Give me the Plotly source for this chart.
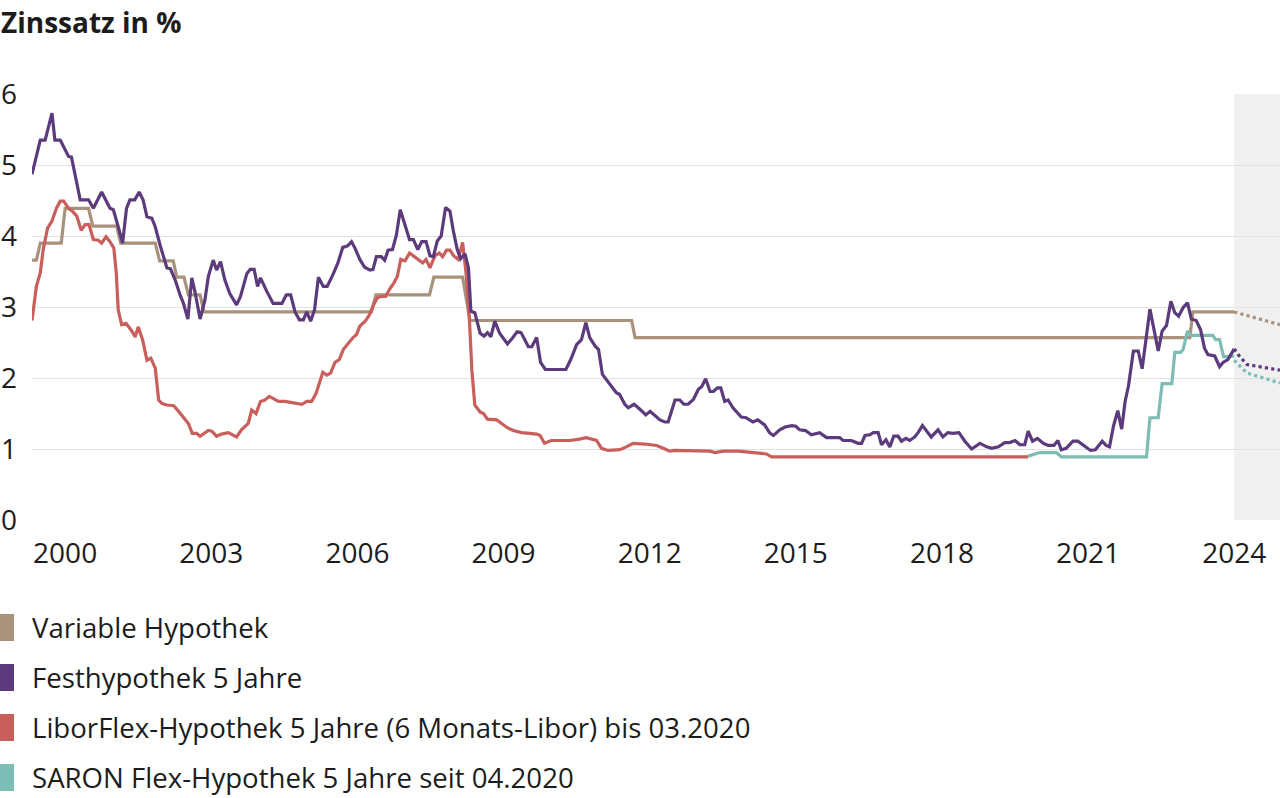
import plotly.graph_objects as go

# ---------------- data (decimal years, % values) ----------------
fest_x = [1999.32,1999.49,1999.59,1999.73,1999.79,1999.90,2000.07,2000.13,2000.31,2000.48,2000.58,2000.75,2000.92,2000.99,
          2001.09,2001.18,2001.26,2001.33,2001.43,2001.52,2001.60,2001.68,2001.78,2001.85,2001.95,2002.09,2002.16,2002.26,
          2002.36,2002.43,2002.52,2002.60,2002.67,2002.77,2002.87,2002.94,2003.04,2003.11,2003.19,2003.28,2003.38,2003.52,
          2003.60,2003.73,2003.80,2003.88,2003.95,2004.01,2004.14,2004.27,2004.45,2004.54,2004.63,2004.72,2004.81,2004.89,
          2004.96,2005.04,2005.12,2005.20,2005.30,2005.38,2005.50,2005.60,2005.70,2005.80,2005.88,2005.95,2006.05,2006.15,
          2006.26,2006.32,2006.39,2006.49,2006.56,2006.63,2006.72,2006.80,2006.88,2006.96,2007.07,2007.15,2007.24,2007.32,
          2007.41,2007.49,2007.56,2007.64,2007.72,2007.81,2007.90,2007.97,2008.05,2008.12,2008.21,2008.28,2008.33,2008.41,
          2008.52,2008.60,2008.67,2008.74,2008.82,2008.92,2009.08,2009.18,2009.28,2009.36,2009.51,2009.58,2009.68,2009.76,
          2009.86,2010.28,2010.38,2010.50,2010.60,2010.69,2010.77,2010.88,2010.95,2011.03,2011.11,2011.22,2011.32,2011.38,
          2011.49,2011.56,2011.68,2011.80,2011.92,2012.01,2012.12,2012.21,2012.31,2012.38,2012.52,2012.62,2012.70,2012.79,
          2012.90,2013.00,2013.07,2013.15,2013.24,2013.31,2013.39,2013.46,2013.54,2013.61,2013.71,2013.88,2013.98,2014.12,
          2014.22,2014.36,2014.46,2014.54,2014.67,2014.78,2014.92,2015.00,2015.08,2015.20,2015.32,2015.49,2015.63,2015.90,
          2015.97,2016.14,2016.28,2016.35,2016.42,2016.52,2016.59,2016.69,2016.76,2016.85,2016.93,2017.01,2017.10,2017.17,
          2017.26,2017.34,2017.44,2017.51,2017.60,2017.70,2017.78,2017.92,2018.02,2018.12,2018.22,2018.35,2018.47,2018.61,
          2018.78,2018.92,2019.02,2019.16,2019.29,2019.39,2019.50,2019.60,2019.70,2019.77,2019.86,2019.96,2020.08,2020.18,
          2020.30,2020.38,2020.45,2020.55,2020.69,2020.79,2020.92,2021.05,2021.15,2021.29,2021.37,2021.44,2021.52,2021.61,
          2021.69,2021.76,2021.83,2021.93,2022.03,2022.11,2022.27,2022.36,2022.44,2022.52,2022.61,2022.70,2022.78,2022.86,
          2022.95,2023.04,2023.12,2023.22,2023.31,2023.39,2023.46,2023.60,2023.70,2023.77,2023.87,2024.00]
fest_y = [4.87,5.35,5.35,5.73,5.35,5.35,5.12,5.11,4.51,4.51,4.39,4.62,4.39,4.37,
          4.13,3.90,4.39,4.51,4.51,4.62,4.51,4.27,4.25,4.13,3.87,3.55,3.54,3.38,
          3.17,3.05,2.83,3.41,3.20,2.83,3.10,3.43,3.66,3.52,3.64,3.38,3.19,3.03,
          3.15,3.47,3.53,3.53,3.29,3.41,3.22,3.05,3.05,3.17,3.17,2.93,2.82,2.82,
          2.93,2.80,2.96,3.42,3.29,3.29,3.46,3.62,3.84,3.86,3.92,3.83,3.67,3.56,
          3.52,3.53,3.71,3.71,3.66,3.80,3.81,4.01,4.37,4.19,3.95,3.95,3.81,3.92,
          3.92,3.72,3.71,3.93,4.00,4.40,4.35,4.07,3.81,3.68,3.75,3.55,2.94,2.92,
          2.63,2.59,2.64,2.58,2.80,2.63,2.48,2.56,2.65,2.64,2.44,2.44,2.57,2.22,
          2.12,2.12,2.26,2.47,2.54,2.78,2.57,2.45,2.40,2.05,1.98,1.88,1.79,1.77,
          1.63,1.58,1.63,1.56,1.48,1.53,1.46,1.41,1.38,1.38,1.69,1.69,1.63,1.63,
          1.70,1.84,1.88,1.99,1.81,1.81,1.86,1.86,1.67,1.69,1.58,1.45,1.44,1.38,
          1.41,1.34,1.23,1.19,1.27,1.31,1.33,1.32,1.27,1.26,1.20,1.23,1.16,1.16,
          1.12,1.12,1.08,1.08,1.19,1.20,1.23,1.23,1.06,1.13,1.03,1.18,1.18,1.11,
          1.15,1.12,1.17,1.23,1.33,1.23,1.17,1.27,1.17,1.23,1.22,1.23,1.11,1.00,
          1.08,1.03,1.01,1.03,1.09,1.09,1.12,1.06,1.06,1.25,1.11,1.15,1.08,1.05,
          1.05,1.12,0.99,1.01,1.11,1.11,1.05,0.98,0.99,1.11,1.05,1.03,1.32,1.54,
          1.28,1.67,1.89,2.38,2.38,2.13,2.97,2.66,2.38,2.66,2.74,3.08,2.92,2.87,
          2.99,3.06,2.83,2.81,2.68,2.42,2.33,2.31,2.16,2.22,2.26,2.41]
fest_fc_x = [2024.00, 2024.08, 2024.26, 2024.94]
fest_fc_y = [2.41, 2.33, 2.19, 2.11]

var_x = [1999.32,1999.41,1999.49,1999.92,2000.00,2000.48,2000.57,2001.06,2001.14,2001.85,2001.94,2002.22,2002.29,
         2002.44,2002.53,2002.77,2002.85,2006.29,2006.38,2007.48,2007.57,2008.16,2008.31,2011.63,2011.70,2023.09,
         2023.15,2024.00]
var_y = [3.66,3.66,3.90,3.90,4.39,4.39,4.14,4.14,3.90,3.90,3.65,3.65,3.42,
         3.42,3.17,3.17,2.93,2.93,3.17,3.17,3.42,3.42,2.81,2.81,2.57,2.57,
         2.93,2.93]
var_fc_x = [2024.00, 2024.94]
var_fc_y = [2.93, 2.75]

libor_x = [1999.32,1999.41,1999.49,1999.55,1999.64,1999.73,1999.82,1999.90,1999.97,2000.07,2000.15,2000.24,2000.33,
           2000.41,2000.49,2000.58,2000.68,2000.75,2000.84,2000.92,2001.00,2001.05,2001.09,2001.16,2001.25,2001.35,
           2001.44,2001.50,2001.59,2001.68,2001.76,2001.85,2001.92,2001.99,2002.09,2002.23,2002.33,2002.46,2002.53,
           2002.61,2002.70,2002.77,2002.94,2003.01,2003.11,2003.21,2003.35,2003.52,2003.62,2003.76,2003.83,2003.92,
           2004.01,2004.10,2004.19,2004.38,2004.51,2004.69,2004.86,2004.96,2005.06,2005.15,2005.22,2005.29,2005.37,
           2005.45,2005.54,2005.63,2005.71,2005.81,2005.91,2005.98,2006.05,2006.16,2006.24,2006.33,2006.41,2006.50,
           2006.58,2006.66,2006.75,2006.82,2006.89,2006.98,2007.07,2007.15,2007.25,2007.34,2007.41,2007.49,2007.59,
           2007.68,2007.75,2007.83,2007.90,2007.98,2008.07,2008.16,2008.23,2008.30,2008.35,2008.41,2008.52,2008.59,
           2008.67,2008.86,2008.96,2009.08,2009.20,2009.37,2009.54,2009.68,2009.75,2009.84,2009.98,2010.36,2010.56,
           2010.70,2010.91,2011.01,2011.15,2011.39,2011.52,2011.66,2011.90,2012.14,2012.28,2012.41,2012.51,2012.75,
           2013.24,2013.34,2013.51,2013.82,2014.06,2014.16,2014.40,2014.50,2019.77]
libor_y = [2.81,3.29,3.48,3.81,4.11,4.21,4.39,4.49,4.49,4.39,4.35,4.28,4.08,
           4.16,4.16,3.95,3.94,3.90,3.99,3.92,3.83,3.48,2.96,2.75,2.77,2.68,
           2.58,2.72,2.54,2.25,2.28,2.14,1.69,1.64,1.62,1.61,1.53,1.43,1.36,
           1.22,1.22,1.18,1.26,1.25,1.18,1.21,1.23,1.17,1.27,1.36,1.55,1.50,
           1.67,1.69,1.74,1.67,1.67,1.65,1.63,1.67,1.67,1.78,1.95,2.08,2.04,
           2.07,2.22,2.26,2.40,2.49,2.57,2.61,2.73,2.80,2.88,3.03,3.13,3.15,
           3.15,3.25,3.34,3.43,3.67,3.65,3.76,3.72,3.67,3.62,3.67,3.55,3.72,
           3.76,3.71,3.80,3.80,3.72,3.67,3.91,3.48,2.82,2.11,1.62,1.52,1.50,
           1.42,1.41,1.36,1.30,1.26,1.23,1.22,1.21,1.19,1.08,1.12,1.12,1.14,
           1.16,1.12,1.01,0.98,0.99,1.03,1.08,1.07,1.05,1.01,0.97,0.98,0.98,
           0.97,0.95,0.97,0.97,0.95,0.94,0.93,0.89,0.89]

saron_x = [2019.77,2020.01,2020.35,2020.45,2022.20,2022.27,2022.44,2022.52,2022.72,2022.78,2022.90,2022.95,2023.04,
           2023.12,2023.56,2023.62,2023.70,2023.78,2023.89,2024.00]
saron_y = [0.90,0.95,0.95,0.89,0.89,1.44,1.44,1.92,1.92,2.36,2.36,2.40,2.66,
           2.60,2.60,2.54,2.54,2.30,2.30,2.31]
saron_fc_x = [2024.00, 2024.26, 2024.94]
saron_fc_y = [2.25, 2.07, 1.93]

x_ticks = [2000, 2003, 2006, 2009, 2012, 2015, 2018, 2021, 2024]
x_ticktext = [str(t) for t in x_ticks]
y_ticks = [0, 1, 2, 3, 4, 5, 6]
forecast_start = 2024.0
x_range = [1999.32, 2024.94]

legend_labels = ["Variable Hypothek", "Festhypothek 5 Jahre",
                 "LiborFlex-Hypothek 5 Jahre (6 Monats-Libor) bis 03.2020",
                 "SARON Flex-Hypothek 5 Jahre seit 04.2020"]
title_text = "Zinssatz in %"

# ---------------- style ----------------
C_VAR = "#a8927c"
C_FEST = "#5c3b7c"
C_LIB = "#c95f5b"
C_SAR = "#7dbdb5"
colors = [C_VAR, C_FEST, C_LIB, C_SAR]
FONT = "Open Sans"
TXT = "#1c1c1c"
LW = 3.2

W, H = 1280, 798
ML, MR, MT, MB = 32, 0, 94, 278
PW, PH = W - ML - MR, H - MT - MB

def px_x(px):
    return (px - ML) / PW

def px_y(py):
    return (H - MB - py) / PH

fig = go.Figure()

def add_line(x, y, color, dash="solid"):
    fig.add_trace(go.Scatter(x=x, y=y, mode="lines", showlegend=False, hoverinfo="skip",
                             line=dict(color=color, width=LW, dash=dash)))

add_line(var_x, var_y, C_VAR)
add_line(var_fc_x, var_fc_y, C_VAR, "dot")
add_line(libor_x, libor_y, C_LIB)
add_line(saron_x, saron_y, C_SAR)
add_line(saron_fc_x, saron_fc_y, C_SAR, "dot")
add_line(fest_x, fest_y, C_FEST)
add_line(fest_fc_x, fest_fc_y, C_FEST, "dot")

# forecast shading
fig.add_shape(type="rect", xref="x", yref="paper", x0=forecast_start, x1=x_range[1], y0=0, y1=1,
              fillcolor="#f0f0f0", line=dict(width=0), layer="below")

# title
fig.add_annotation(text="<b>" + title_text + "</b>", xref="paper", yref="paper",
                   x=px_x(-1), y=px_y(22), xanchor="left", yanchor="middle", showarrow=False,
                   font=dict(family=FONT, size=28, color=TXT))

# manual legend
row_centers = [627, 677, 727, 777]
for lab, col, cy in zip(legend_labels, colors, row_centers):
    fig.add_shape(type="rect", xref="paper", yref="paper",
                  x0=px_x(0), x1=px_x(14), y0=px_y(cy + 14), y1=px_y(cy - 13),
                  fillcolor=col, line=dict(width=0))
    fig.add_annotation(text=lab, xref="paper", yref="paper", x=px_x(30), y=px_y(cy),
                       xanchor="left", yanchor="middle", showarrow=False,
                       font=dict(family=FONT, size=27.6, color=TXT))

fig.update_layout(
    width=W, height=H,
    margin=dict(l=ML, r=MR, t=MT, b=MB, pad=0),
    paper_bgcolor="white", plot_bgcolor="white",
    showlegend=False,
    font=dict(family=FONT, color=TXT),
    xaxis=dict(range=x_range, tickvals=x_ticks, ticktext=x_ticktext, showgrid=False,
               zeroline=False, showline=False, ticks="", ticklabelstandoff=14,
               tickfont=dict(family=FONT, size=28, color=TXT), fixedrange=True),
    yaxis=dict(range=[0, 6], tickvals=y_ticks, showgrid=True, gridcolor="#e2e2e2", gridwidth=1,
               zeroline=False, showline=False, ticks="", ticklabelstandoff=14,
               tickfont=dict(family=FONT, size=28, color=TXT), fixedrange=True),
)

fig.write_html("out.html", config={"displayModeBar": False},
               post_script="document.body.style.margin='0';document.body.style.overflow='hidden';")
